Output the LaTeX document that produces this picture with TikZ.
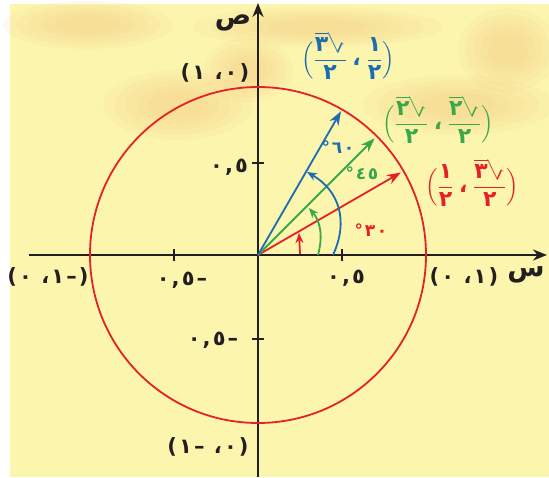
\documentclass[tikz,border=0pt]{standalone}
\usepackage{amsmath}
\usepackage{graphicx}
\usepackage{fontspec}
\usetikzlibrary{arrows.meta}
\TeXXeTstate=1
\newfontfamily\arfont[Script=Arabic]{DejaVu Sans}
\definecolor{ucBack}{HTML}{FCF5AE}
\definecolor{ucPeach}{HTML}{F2C078}
\definecolor{ucRed}{HTML}{E42128}
\definecolor{ucBlue}{HTML}{1B6CB3}
\definecolor{ucGreen}{HTML}{3AA84A}
\definecolor{ucInk}{HTML}{231F20}
\newcommand{\arnum}[1]{\mbox{\arfont\bfseries #1}}
\newcommand{\arroot}[1]{\reflectbox{$\sqrt{\reflectbox{\arnum{#1}}}$}}
\newcommand{\afrac}[2]{\genfrac{}{}{1.4pt}{0}{#1}{#2}}
\begin{document}
\begin{tikzpicture}[x=1pt,y=1pt,
  axisline/.style={draw=ucInk,line width=2.2pt},
  unitcirc/.style={draw=ucRed,line width=1.8pt},
  radvec/.style={-{Stealth[length=14pt,width=10pt]},line width=1.8pt},
  anglemark/.style={-{Stealth[length=10pt,width=8pt]},line width=1.8pt},
  lbl/.style={text=ucInk,font=\arfont\bfseries\fontsize{21}{24}\selectfont\addfontfeature{LetterSpace=10},inner sep=0pt},
  deglbl/.style={font=\arfont\bfseries\fontsize{17}{20}\selectfont\addfontfeature{LetterSpace=10},inner sep=0pt},
  fraclbl/.style={font=\fontsize{22}{25}\selectfont,inner sep=0pt}]
\useasboundingbox (-258,-222) rectangle (291,255);
% background
\fill[white] (-258,-222) rectangle (291,255);
\fill[ucBack] (-248,-222) rectangle (291,251);
\foreach \cx/\cy/\ra/\rb in {-170/230/85/24, -80/150/75/35, 60/228/125/20, 200/150/95/30, 250/205/50/42, -10/185/45/32}
  \foreach \s in {1,.85,.7,.55,.4}
    \fill[ucPeach,fill opacity=.09] (\cx,\cy) ellipse ({\s*\ra} and {\s*\rb});
% axes and unit circle
\coordinate (O) at (0,0);
\coordinate (xl) at (-229,0); \coordinate (xr) at (289,0);
\coordinate (yb) at (0,-222); \coordinate (yt) at (0,252);
\draw[axisline,-{Stealth[length=14pt,width=11pt]}] (xl) -- (xr);
\draw[axisline,-{Stealth[length=14pt,width=11pt]}] (yb) -- (yt);
\draw[unitcirc] (O) circle (168);
\foreach \t in {-84,84} \draw[ucInk,line width=2pt] (\t,-6) -- (\t,6);
\foreach \t in {-84,92} \draw[ucInk,line width=2pt] (-6,\t) -- (6,\t);
% vectors
\coordinate (tr) at (30:165); \coordinate (tg) at (45:165); \coordinate (tb) at (60:166);
\draw[radvec,ucRed] (O) -- (tr);
\draw[radvec,ucGreen] (O) -- (tg);
\draw[radvec,ucBlue] (O) -- (tb);
% angle marks
\coordinate (ar0) at (42,1); \coordinate (ar1) at (41,22);
\coordinate (ag0) at (60,0); \coordinate (ag1) at (51,47);
\coordinate (ab0) at (75,0); \coordinate (ab1) at (49,83);
\draw[anglemark,ucRed] (ar0) -- (ar1);
\draw[anglemark,ucGreen] (ag0) to[out=75,in=-50] (ag1);
\draw[anglemark,ucBlue] (ab0) to[out=65,in=-30,looseness=1.1] (ab1);
\node[deglbl,text=ucBlue] (d60) at (80,108) {٦٠°};
\node[deglbl,text=ucGreen] (d45) at (104,82) {٤٥°};
\node[deglbl,text=ucRed] (d30) at (113,25) {٣٠°};
% tick labels
\node[lbl] (hx) at (88,-23) {٠,٥};
\node[lbl] (hxm) at (-76,-25) {–٠,٥};
\node[lbl] (hy) at (-29,88) {٠,٥};
\node[lbl] (hym) at (-45,-85) {–٠,٥};
% axis points
\node[lbl] (p1) at (206,-22) {\beginR(١، ٠)\endR};
\node[lbl] (p2) at (-43,182) {\beginR(٠، ١)\endR};
\node[lbl] (p3) at (-210,-22) {\beginR(–١، ٠)\endR};
\node[lbl] (p4) at (-50,-192) {\beginR(٠، –١)\endR};
\node[lbl,font=\arfont\bfseries\fontsize{27}{27}\selectfont] (sx) at (268,-20) {س};
\node[lbl,font=\arfont\bfseries\fontsize{27}{27}\selectfont] (sy) at (-25,232) {ص};
% coordinates of the three points
\node[fraclbl,text=ucBlue] (fb) at (90,199)
  {$\Bigl(\afrac{\arroot{٣}}{\arnum{٢}}\;\arnum{،}\;\afrac{\arnum{١}}{\arnum{٢}}\Bigr)$};
\node[fraclbl,text=ucGreen] (fg) at (180,135)
  {$\Bigl(\afrac{\arroot{٢}}{\arnum{٢}}\;\arnum{،}\;\afrac{\arroot{٢}}{\arnum{٢}}\Bigr)$};
\node[fraclbl,text=ucRed] (fr) at (214,72)
  {$\Bigl(\afrac{\arnum{١}}{\arnum{٢}}\;\arnum{،}\;\afrac{\arroot{٣}}{\arnum{٢}}\Bigr)$};
\end{tikzpicture}
\end{document}
